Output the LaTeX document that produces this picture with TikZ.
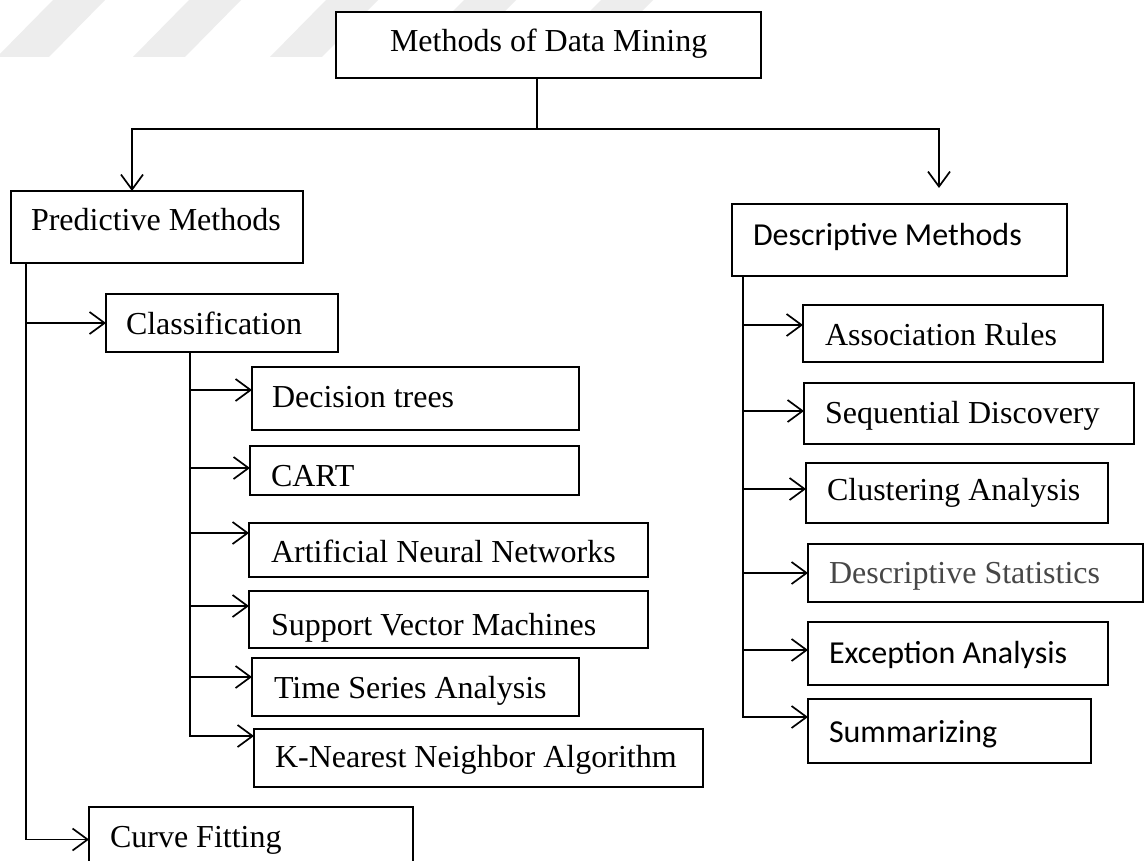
\documentclass[tikz,border=0pt]{standalone}
\usepackage{fontspec}
\setmainfont{Liberation Serif}
\newfontfamily\calfont{Carlito}
\usetikzlibrary{arrows.meta}
\tikzset{
  box/.style={draw=black, line width=1.3pt, fill=white, rectangle, anchor=north west, inner sep=0pt, outer sep=0pt},
  lbl/.style={anchor=base west, inner sep=0pt, outer sep=0pt, font=\fontsize{32}{38}\selectfont},
  conn/.style={line width=1.7pt, black},
  arr/.style={conn, -{Straight Barb[length=15pt,width=22pt,line width=1.7pt]}},
  wm/.style={fill=black!7, draw=none}
}
\begin{document}
\begin{tikzpicture}[x=1pt,y=-1pt]
\useasboundingbox (0,0) rectangle (1148,861);
\clip (0,0) rectangle (1148,861);
\fill[white] (0,0) rectangle (1148,861);
% watermark stripes
\foreach \a in {-3,133,270,408,545}{
  \fill[wm] (\a,57) -- (\a+52,57) -- (\a+108,0) -- (\a+56,0) -- cycle;
}
% boxes
\node[box, minimum width=425pt, minimum height=66pt] (top) at (336,12) {};
\node[box, minimum width=292pt, minimum height=72pt] (pred) at (11,191) {};
\node[box, minimum width=232pt, minimum height=58pt] (classif) at (106,294) {};
\node[box, minimum width=327pt, minimum height=63pt] (dt) at (252,367) {};
\node[box, minimum width=329pt, minimum height=49pt] (cart) at (250,446) {};
\node[box, minimum width=399pt, minimum height=54pt] (ann) at (249,523) {};
\node[box, minimum width=399pt, minimum height=57pt] (svm) at (249,591) {};
\node[box, minimum width=327pt, minimum height=58pt] (tsa) at (252,658) {};
\node[box, minimum width=449pt, minimum height=58pt] (knn) at (254,729) {};
\node[box, minimum width=324pt, minimum height=62pt] (cf) at (89,807) {};
\node[box, minimum width=335pt, minimum height=72pt] (desc) at (732,204) {};
\node[box, minimum width=300pt, minimum height=57pt] (assoc) at (803,305) {};
\node[box, minimum width=330pt, minimum height=61pt] (seq) at (804,383) {};
\node[box, minimum width=302pt, minimum height=60pt] (clust) at (806,463) {};
\node[box, minimum width=335pt, minimum height=58pt] (dstat) at (808,544) {};
\node[box, minimum width=300pt, minimum height=63pt] (exc) at (808,622) {};
\node[box, minimum width=283pt, minimum height=64pt] (summ) at (808,699) {};
% labels
\node[lbl] (l-top) at (390,52) {Methods of Data Mining};
\node[lbl] (l-pred) at (31,230) {Predictive Methods};
\node[lbl] (l-classif) at (126,334) {Classification};
\node[lbl] (l-dt) at (272,407) {Decision trees};
\node[lbl] (l-cart) at (271,486) {CART};
\node[lbl] (l-ann) at (271,562) {Artificial Neural Networks};
\node[lbl] (l-svm) at (271,635) {Support Vector Machines};
\node[lbl] (l-tsa) at (274,698) {Time Series Analysis};
\node[lbl] (l-knn) at (275,767) {K-Nearest Neighbor Algorithm};
\node[lbl] (l-cf) at (110,847) {Curve Fitting};
\node[lbl, font=\calfont\fontsize{32}{38}\selectfont] (l-desc) at (753,245) {Descriptive Methods};
\node[lbl] (l-assoc) at (825,345) {Association Rules};
\node[lbl] (l-seq) at (825,423) {Sequential Discovery};
\node[lbl] (l-clust) at (827,500) {Clustering Analysis};
\node[lbl, text=black!72] (l-dstat) at (829,583) {Descriptive Statistics};
\node[lbl, font=\calfont\fontsize{32}{38}\selectfont] (l-exc) at (829,663) {Exception Analysis};
\node[lbl, font=\calfont\fontsize{32}{38}\selectfont] (l-summ) at (829,742) {Summarizing};
% top connectors
\coordinate (tb) at ([xshift=-11.5pt]top.south);
\coordinate (bar) at (0,129);
\coordinate (rtip) at ([xshift=39.5pt,yshift=16pt]desc.north);
\draw[conn] (tb) -- (tb |- bar);
\draw[arr] (tb |- bar) -| ([xshift=-25pt]pred.north);
\draw[arr] (tb |- bar) -| (rtip);
% predictive branch
\coordinate (ps) at ([xshift=15pt]pred.south west);
\draw[arr] (ps) |- ([yshift=-1.5pt]cf.west);
\draw[arr] (classif.west -| ps) -- (classif.west);
% classification branch
\coordinate (cs) at ([xshift=84pt]classif.south west);
\draw[arr] (cs) |- ([yshift=22pt]knn.west);
\draw[arr] ([yshift=8.5pt]dt.west -| cs) -- ([yshift=8.5pt]dt.west);
\draw[arr] ([yshift=2.5pt]cart.west -| cs) -- ([yshift=2.5pt]cart.west);
\draw[arr] ([yshift=17pt]ann.west -| cs) -- ([yshift=17pt]ann.west);
\draw[arr] ([yshift=13.5pt]svm.west -| cs) -- ([yshift=13.5pt]svm.west);
\draw[arr] ([yshift=10pt]tsa.west -| cs) -- ([yshift=10pt]tsa.west);
% descriptive branch
\coordinate (ds) at ([xshift=11pt]desc.south west);
\draw[arr] (ds) |- ([yshift=14pt]summ.west);
\draw[arr] ([yshift=8.5pt]assoc.west -| ds) -- ([yshift=8.5pt]assoc.west);
\draw[arr] ([yshift=2.5pt]seq.west -| ds) -- ([yshift=2.5pt]seq.west);
\draw[arr] ([yshift=4pt]clust.west -| ds) -- ([yshift=4pt]clust.west);
\draw[arr] (dstat.west -| ds) -- (dstat.west);
\draw[arr] ([yshift=3.5pt]exc.west -| ds) -- ([yshift=3.5pt]exc.west);
\end{tikzpicture}
\end{document}
